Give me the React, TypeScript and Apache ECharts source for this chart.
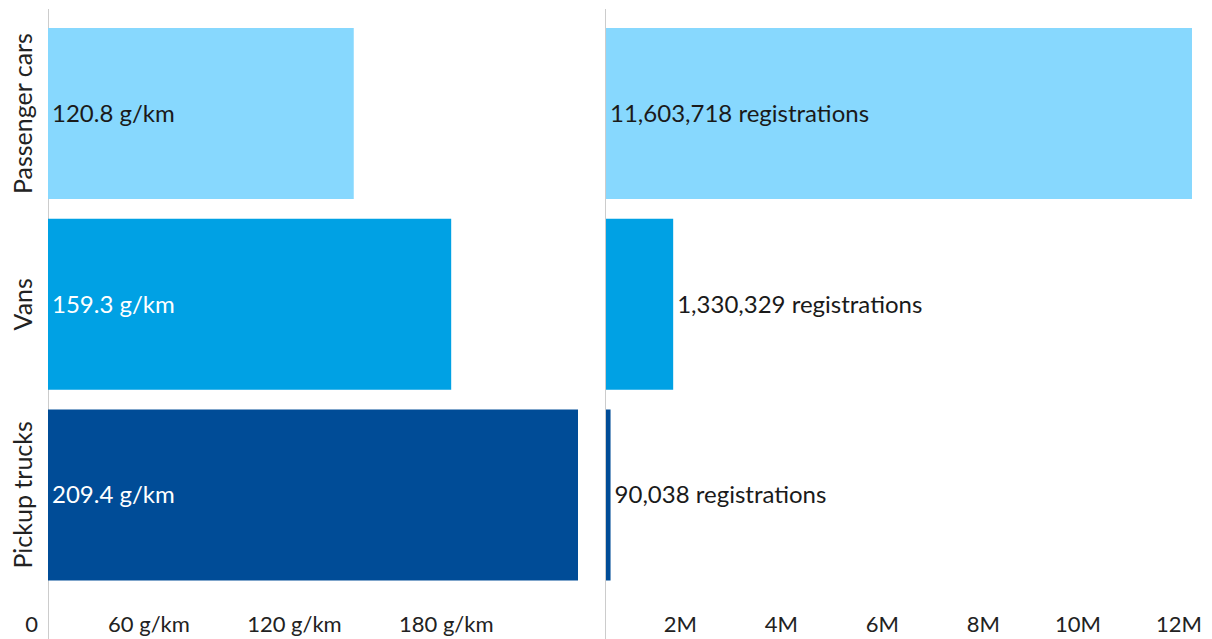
import React, { useEffect, useRef } from "react";
import * as echarts from "echarts";

const categories = ["Passenger cars", "Vans", "Pickup trucks"];
const co2Values = [120.8, 159.3, 209.4];
const registrations = [11603718, 1330329, 90038];
const barColors = ["#87D8FE", "#00A1E4", "#004C97"];
const co2LabelColors = ["#1a1a1a", "#ffffff", "#ffffff"];
const regLabelPositions = ["insideLeft", "right", "right"];
const co2Ticks = [0, 60, 120, 180];
const regTicks = [2, 4, 6, 8, 10, 12];

const FONT = "Lato";

export default function App() {
  const ref = useRef<HTMLDivElement>(null);
  useEffect(() => {
    if (!ref.current) return;
    const chart = echarts.init(ref.current, undefined, { renderer: "svg" });
    const gridTop = 18.25;
    const gridHeight = 572;
    const axisLabelCommon = {
      color: "#222",
      fontFamily: FONT,
      fontSize: 22,
      align: "right" as const,
      padding: [0, 10, 0, 0],
      margin: 22,
      showMaxLabel: false,
    };
    chart.setOption({
      animation: false,
      backgroundColor: "#ffffff",
      grid: [
        { left: 48, top: gridTop, width: 530, height: gridHeight },
        { left: 606, top: gridTop, width: 607, height: gridHeight },
      ],
      xAxis: [
        {
          gridIndex: 0,
          type: "value",
          min: 0,
          max: Math.max(...co2Values),
          interval: 60,
          axisLine: { show: false },
          axisTick: { show: false },
          splitLine: { show: false },
          axisLabel: {
            ...axisLabelCommon,
            formatter: (v: number) =>
              co2Ticks.includes(v) ? (v === 0 ? "0" : `${v} g/km`) : "",
          },
        },
        {
          gridIndex: 1,
          type: "value",
          min: 0,
          max: 12000000,
          interval: 2000000,
          axisLine: { show: false },
          axisTick: { show: false },
          splitLine: { show: false },
          axisLabel: {
            ...axisLabelCommon,
            showMaxLabel: true,
            formatter: (v: number) =>
              regTicks.includes(v / 1e6) ? `${v / 1e6}M` : "",
          },
        },
      ],
      yAxis: [
        {
          gridIndex: 0,
          type: "category",
          inverse: true,
          data: categories,
          axisLine: { show: false },
          axisTick: { show: false },
          axisLabel: {
            interval: 0,
            hideOverlap: false,
            rotate: 90,
            color: "#222",
            fontFamily: FONT,
            fontSize: 25,
            margin: 14,
          },
        },
        {
          gridIndex: 1,
          type: "category",
          inverse: true,
          data: categories,
          axisLine: { show: false },
          axisTick: { show: false },
          axisLabel: { show: false },
        },
      ],
      graphic: [
        {
          type: "line",
          shape: { x1: 48.5, y1: 9, x2: 48.5, y2: 639 },
          style: { stroke: "#cccccc", lineWidth: 1 },
        },
        {
          type: "line",
          shape: { x1: 605.5, y1: 9, x2: 605.5, y2: 639 },
          style: { stroke: "#cccccc", lineWidth: 1 },
        },
      ],
      series: [
        {
          type: "bar",
          xAxisIndex: 0,
          yAxisIndex: 0,
          barCategoryGap: "10.3%",
          data: co2Values.map((v, i) => ({
            value: v,
            itemStyle: { color: barColors[i] },
            label: { color: co2LabelColors[i] },
          })),
          label: {
            show: true,
            position: "insideLeft",
            distance: 4,
            offset: [0, -1],
            fontFamily: FONT,
            fontSize: 24,
            formatter: (p: any) => `${p.value} g/km`,
          },
        },
        {
          type: "bar",
          xAxisIndex: 1,
          yAxisIndex: 1,
          barCategoryGap: "10.3%",
          barMinWidth: 5,
          data: registrations.map((v, i) => ({
            value: v,
            itemStyle: { color: barColors[i] },
            label: { position: regLabelPositions[i] },
          })),
          label: {
            show: true,
            distance: 4,
            offset: [0, -1],
            color: "#1a1a1a",
            fontFamily: FONT,
            fontSize: 24,
            formatter: (p: any) =>
              `${Number(p.value).toLocaleString("en-US")} registrations`,
          },
        },
      ],
    });
    return () => chart.dispose();
  }, []);
  return (
    <div
      ref={ref}
      style={{ position: "absolute", left: 0, top: 0, width: 1212, height: 639 }}
    />
  );
}
